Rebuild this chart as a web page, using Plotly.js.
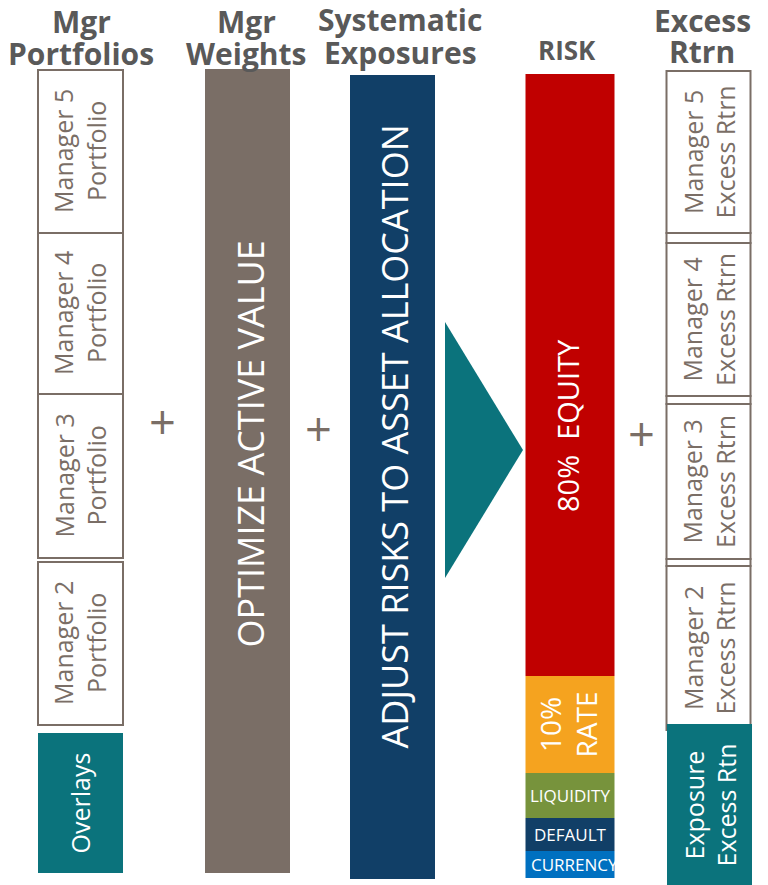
<!DOCTYPE html>
<html>
<head>
<meta charset="utf-8">
<script src="https://cdn.plot.ly/plotly-3.0.1.min.js"></script>
<style>html,body{margin:0;padding:0;background:#fff}#chart{width:768px;height:885px}</style>
</head>
<body>
<div id="chart"></div>
<script>
// ---- data ----
const columnTitles = ["Mgr<br>Portfolios", "Mgr<br>Weights", "Systematic<br>Exposures", "RISK", "Excess<br>Rtrn"];

const portfolioLabels = ["Manager 5<br>Portfolio", "Manager 4<br>Portfolio", "Manager 3<br>Portfolio", "Manager 2<br>Portfolio"];
const portfolioStart = [70, 233, 394, 562];
const portfolioEnd = [233, 394, 558, 725];
const overlayLabel = "Overlays";
const overlaySpan = [733, 873];

const weightsLabel = "OPTIMIZE ACTIVE VALUE";
const weightsSpan = [69, 873];
const exposuresLabel = "ADJUST RISKS TO ASSET ALLOCATION";
const exposuresSpan = [75, 879];

const riskLabels = ["80%  EQUITY", "10%<br>RATE", "LIQUIDITY", "DEFAULT", "CURRENCY"];
const riskValues = [602, 97, 45, 33, 27];
const riskStart = 74;

const excessLabels = ["Manager 5<br>Excess Rtrn", "Manager 4<br>Excess Rtrn", "Manager 3<br>Excess Rtrn", "Manager 2<br>Excess Rtrn"];
const excessStart = [71, 243, 404, 566];
const excessEnd = [233, 396, 559, 730];
const excessGapStart = [233, 396, 559];
const excessGapEnd = [243, 404, 566];
const exposureExcessLabel = "Exposure<br>Excess Rtn";
const exposureExcessSpan = [724, 885];

const arrowX = [445, 523, 445];
const arrowY = [322, 450, 578];

// ---- styles ----
const GRAY = "#7a6e66", NAVY = "#113f67", TEAL = "#0b737c", TITLE = "#595959";
const riskColors = ["#c00000", "#f5a31f", "#77933c", "#113f67", "#0070c0"];
const riskFont = [29, 28, 17, 17, 17];
const FONT = "'Open Sans', 'Noto Sans', sans-serif";
const colX = [80.5, 247.5, 392.5, 570, 708.5];
const colW = [85, 85, 85, 89, 84];

const traces = [];
const annotations = [];

function boxTrace(x, w, starts, ends, fill, line) {
  return {
    type: "bar", x: starts.map(() => x), width: starts.map(() => w),
    base: starts, y: starts.map((s, i) => ends[i] - s),
    marker: {color: fill, line: {color: line, width: line ? 2 : 0}},
    hoverinfo: "skip", showlegend: false
  };
}
function label(x, y, text, size, color, weight) {
  annotations.push({x: x, y: y, xref: "x", yref: "y", text: text, showarrow: false,
    textangle: -90, xanchor: "center", yanchor: "middle",
    font: {family: FONT, size: size, color: color, weight: weight || 400}});
}

// column 1
traces.push(boxTrace(colX[0], colW[0], portfolioStart, portfolioEnd, "#ffffff", GRAY));
portfolioLabels.forEach((t, i) => label(colX[0] - 1, (portfolioStart[i] + portfolioEnd[i]) / 2, t, 25, GRAY));
traces.push(boxTrace(colX[0], colW[0], [overlaySpan[0]], [overlaySpan[1]], TEAL, null));
label(colX[0] - 1, (overlaySpan[0] + overlaySpan[1]) / 2, overlayLabel, 25, "#ffffff");

// column 2
traces.push(boxTrace(colX[1], colW[1], [weightsSpan[0]], [weightsSpan[1]], GRAY, null));
label(colX[1] + 2, 444, weightsLabel, 36, "#ffffff");

// column 3
traces.push(boxTrace(colX[2], colW[2], [exposuresSpan[0]], [exposuresSpan[1]], NAVY, null));
label(colX[2] + 1, 437, exposuresLabel, 36, "#ffffff");

// arrow
traces.push({type: "scatter", mode: "lines", x: arrowX, y: arrowY, fill: "toself",
  fillcolor: TEAL, line: {color: TEAL, width: 0}, hoverinfo: "skip", showlegend: false});

// risk stack
let acc = riskStart;
const rStarts = [], rEnds = [];
riskValues.forEach(v => { rStarts.push(acc); acc += v; rEnds.push(acc); });
riskValues.forEach((v, i) => {
  traces.push(boxTrace(colX[3], colW[3], [rStarts[i]], [rEnds[i]], riskColors[i], null));
  if (i < 2) {
    label(colX[3] - 3, i === 0 ? 426 : (rStarts[i] + rEnds[i]) / 2, riskLabels[i], riskFont[i], "#ffffff");
  } else {
    annotations.push({x: colX[3] + (i === 4 ? 4 : 0), y: (rStarts[i] + rEnds[i]) / 2, xref: "x", yref: "y",
      text: riskLabels[i], showarrow: false, xanchor: "center", yanchor: "middle",
      font: {family: FONT, size: riskFont[i], color: "#ffffff"}});
  }
});

// excess column
traces.push(boxTrace(colX[4], colW[4], excessGapStart, excessGapEnd, "#ffffff", GRAY));
traces.push(boxTrace(colX[4], colW[4], excessStart, excessEnd, "#ffffff", GRAY));
excessLabels.forEach((t, i) => label(colX[4], (excessStart[i] + excessEnd[i]) / 2, t, 25, GRAY));
traces.push(boxTrace(colX[4] + 1, 85, [exposureExcessSpan[0]], [exposureExcessSpan[1]], TEAL, null));
label(colX[4] + 1, 805, exposureExcessLabel, 25, "#ffffff");

// plus signs
[[162, 421], [318, 428], [641, 433]].forEach(p => annotations.push({
  x: p[0], y: p[1], xref: "x", yref: "y", text: "+", showarrow: false,
  xanchor: "center", yanchor: "middle", font: {family: FONT, size: 47, color: GRAY}}));

// titles
const titleY = [[21, 53], [21, 53], [19, 52], [50], [20, 51]];
const titleX = [81, 246, 400, 567, 702];
columnTitles.forEach((t, i) => {
  const lines = t.split("<br>");
  lines.forEach((ln, j) => annotations.push({
    x: titleX[i], y: titleY[i][j], xref: "x", yref: "y", text: ln, showarrow: false,
    xanchor: "center", yanchor: "middle",
    font: {family: FONT, size: i === 3 ? 26 : 30, color: TITLE, weight: 700}}));
});

const layout = {
  width: 768, height: 885, margin: {l: 0, r: 0, t: 0, b: 0},
  paper_bgcolor: "#ffffff", plot_bgcolor: "#ffffff",
  barmode: "overlay", showlegend: false,
  xaxis: {range: [0, 768], visible: false, fixedrange: true},
  yaxis: {range: [885, 0], visible: false, fixedrange: true},
  annotations: annotations
};
Plotly.newPlot("chart", traces, layout, {displayModeBar: false, staticPlot: true});
</script>
</body>
</html>
